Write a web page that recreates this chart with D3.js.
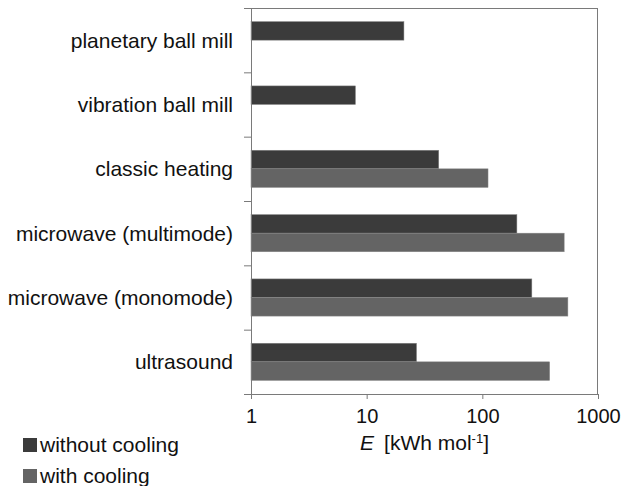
<!DOCTYPE html>
<html>
<head>
<meta charset="utf-8">
<script src="https://cdn.jsdelivr.net/npm/d3@7"></script>
<style>
  body { margin: 0; background: #fff; }
  svg { display: block; font-family: "Liberation Sans", Arial, sans-serif; }
</style>
</head>
<body>
<div id="chart"></div>
<script>
// categories, top to bottom
const categories = [
    "planetary ball mill",
    "vibration ball mill",
    "classic heating",
    "microwave (multimode)",
    "microwave (monomode)",
    "ultrasound"
];
const seriesNames = ["without cooling", "with cooling"];
// energy in kWh/mol (null = no bar)
const withoutCooling = [21, 8, 42, 199, 268, 27];
const withCooling = [null, null, 112, 510, 549, 382];
const xTicks = [1, 10, 100, 1000];

const colors = {"without cooling": "#3b3b3b", "with cooling": "#646464"};
const axisColor = "#7a7a7a";

const W = 622, H = 486;
const margin = {top: 8, right: 24, bottom: 92, left: 251};

const svg = d3.select("#chart").append("svg")
    .attr("width", W)
    .attr("height", H);

// scales
const x = d3.scaleLog()
    .domain([1, 1000])
    .range([margin.left, W - margin.right]);

const y = d3.scaleBand()
    .domain(categories)
    .range([margin.top, H - margin.bottom]);

const ySub = d3.scaleBand()
    .domain(seriesNames)
    .range([0, y.bandwidth()])
    .paddingOuter(0.73)
    .paddingInner(0);

// build rows for bars
const rows = [];
categories.forEach((c, i) => {
    rows.push({cat: c, series: seriesNames[0], value: withoutCooling[i]});
    rows.push({cat: c, series: seriesNames[1], value: withCooling[i]});
});

// bars
svg.append("g")
    .selectAll("rect")
    .data(rows.filter(d => d.value != null))
    .join("rect")
    .attr("x", x(1))
    .attr("y", d => y(d.cat) + ySub(d.series))
    .attr("width", d => x(d.value) - x(1))
    .attr("height", ySub.bandwidth())
    .attr("fill", d => colors[d.series])
    .attr("stroke", "#8a8a8a")
    .attr("stroke-width", 0.5);

// frame lines on top and right
const plotTop = margin.top, plotBottom = H - margin.bottom;
svg.append("line")
    .attr("x1", x(1)).attr("x2", x(1000))
    .attr("y1", plotTop + 0.5).attr("y2", plotTop + 0.5)
    .attr("stroke", axisColor);
svg.append("line")
    .attr("x1", x(1000) - 0.5).attr("x2", x(1000) - 0.5)
    .attr("y1", plotTop).attr("y2", plotBottom)
    .attr("stroke", axisColor);

// x axis
const xAxis = svg.append("g")
    .attr("transform", `translate(0,${plotBottom})`)
    .call(d3.axisBottom(x)
        .tickValues(xTicks)
        .tickFormat(d3.format("d"))
        .tickSize(5)
        .tickPadding(10));
xAxis.selectAll("text")
    .style("font-size", "20px")
    .attr("fill", "#111");

// left axis: ticks at band boundaries
const yEdge = d3.scaleLinear()
    .domain([0, categories.length])
    .range([plotTop, plotBottom]);
svg.append("g")
    .attr("transform", `translate(${margin.left},0)`)
    .call(d3.axisLeft(yEdge)
        .tickValues(d3.range(categories.length + 1))
        .tickFormat("")
        .tickSize(7));

// category labels
svg.append("g")
    .attr("transform", `translate(${margin.left - 18},0)`)
    .call(d3.axisLeft(y).tickSize(0).tickPadding(0))
    .call(g => g.select(".domain").remove())
    .selectAll("text")
    .style("font-size", "21px")
    .attr("fill", "#111")
    .attr("dy", "0.36em");

svg.selectAll(".domain, .tick line").attr("stroke", axisColor);

// axis title
const title = svg.append("text")
    .attr("x", (x(1) + x(1000)) / 2)
    .attr("y", 450)
    .attr("text-anchor", "middle")
    .style("font-size", "21px")
    .attr("fill", "#111");
title.append("tspan").style("font-style", "italic").text("E");
title.append("tspan").text("\u2009 [kWh mol");
title.append("tspan").attr("baseline-shift", "super").style("font-size", "13px").text("-1");
title.append("tspan").text("]");

// legend
const legend = svg.append("g")
    .attr("transform", "translate(23,438)");
seriesNames.forEach((s, i) => {
    const g = legend.append("g").attr("transform", `translate(0,${i * 31})`);
    g.append("rect")
        .attr("width", 14).attr("height", 14)
        .attr("fill", colors[s]);
    g.append("text")
        .attr("x", 17)
        .attr("y", 14)
        .style("font-size", "21px")
        .attr("fill", "#111")
        .text(s);
});
</script>
</body>
</html>
